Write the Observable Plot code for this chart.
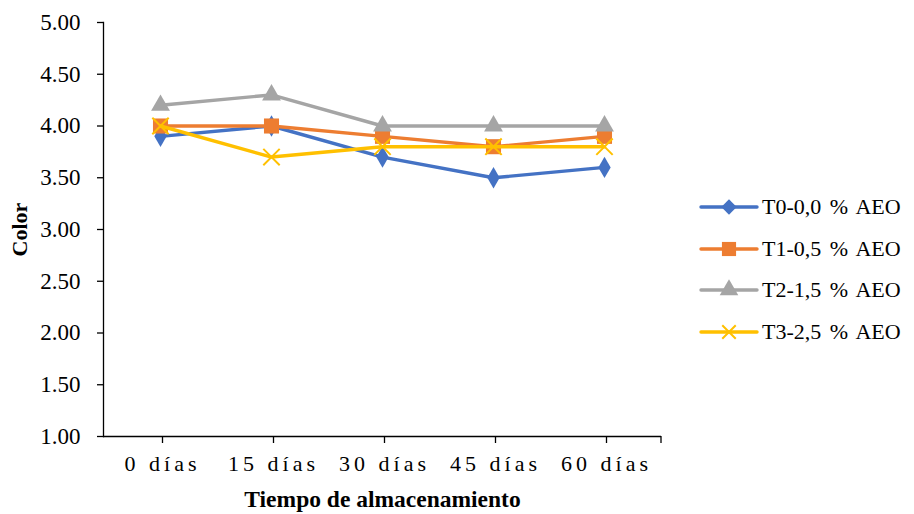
<!DOCTYPE html>
<html>
<head>
<meta charset="utf-8">
<script src="https://cdn.jsdelivr.net/npm/d3@7"></script>
<script src="https://cdn.jsdelivr.net/npm/@observablehq/plot@0.6"></script>
<style>
  body { margin: 0; background: #fff; }
  #wrap { position: relative; width: 914px; height: 514px; font-family: "Liberation Serif", serif; }
  #chart svg, #chart svg text { font-family: "Liberation Serif", serif !important; }
  #chart g[aria-label="y-axis tick label"] text { font-size: 23px !important; }
  #chart g[aria-label="x-axis tick label"] text { font-size: 22px !important; letter-spacing: 4px; }
  #legend { position: absolute; left: 698px; top: 186px; }
  .row { display: flex; align-items: center; height: 41.7px; font-size: 22px; word-spacing: 3px; color: #000; font-family: "Liberation Serif", serif; }
  .row svg { margin-right: 2px; }
</style>
</head>
<body>
<div id="wrap"><div id="chart"></div><div id="legend"></div></div>
<script>
const categories = ["0 días", "15 días", "30 días", "45 días", "60 días"];
const seriesNames = ["T0-0,0 % AEO", "T1-0,5 % AEO", "T2-1,5 % AEO", "T3-2,5 % AEO"];
const t0 = [3.9, 4.0, 3.7, 3.5, 3.6];
const t1 = [4.0, 4.0, 3.9, 3.8, 3.9];
const t2 = [4.2, 4.3, 4.0, 4.0, 4.0];
const t3 = [4.0, 3.7, 3.8, 3.8, 3.8];
const yTicks = [1, 1.5, 2, 2.5, 3, 3.5, 4, 4.5, 5];
const colors = ["#4472C4", "#ED7D31", "#A5A5A5", "#FFC000"];
const symbols = ["diamond", "square", "triangle", "times"];
const sizes = [6.5, 8.5, 7, 7.5];

const allValues = [t0, t1, t2, t3];
const data = allValues.map((vals, s) => categories.map((c, i) => ({series: seriesNames[s], cat: c, value: vals[i]})));

// closing tick at the right end of the category axis
function endTick(index, scales, values, dims) {
  const x = dims.width - dims.marginRight;
  const y0 = dims.height - dims.marginBottom;
  const l = document.createElementNS("http://www.w3.org/2000/svg", "line");
  l.setAttribute("x1", x); l.setAttribute("x2", x);
  l.setAttribute("y1", y0); l.setAttribute("y2", y0 + 7);
  l.setAttribute("stroke", "#000"); l.setAttribute("stroke-width", 1.3);
  return l;
}

const marks = [
  Plot.ruleY([1], {stroke: "#000", strokeWidth: 1.3}),
  Plot.frame({anchor: "left", stroke: "#000", strokeWidth: 1.3}),
  endTick,
  Plot.axisY({ticks: yTicks, tickFormat: d3.format(".2f"), tickSize: 6, tickPadding: 17, fontSize: 23, label: null, stroke: "#000", strokeWidth: 1.3}),
  Plot.axisX({tickSize: 7, tickPadding: 12, fontSize: 22, dx: 2, label: null, stroke: "#000", strokeWidth: 1.3}),
  Plot.text(["Color"], {frameAnchor: "left", textAnchor: "middle", dx: -84, rotate: -90, fontSize: 22, fontWeight: "bold"}),
  Plot.text(["Tiempo de almacenamiento"], {frameAnchor: "bottom", dy: 70, fontSize: 23.5, fontWeight: "bold"})
];
data.forEach((d, s) => {
  marks.push(Plot.line(d, {x: "cat", y: "value", stroke: colors[s], strokeWidth: 3.4}));
  const isStroke = symbols[s] === "times";
  marks.push(Plot.dot(d, {x: "cat", y: "value", symbol: () => symbols[s], r: sizes[s],
    fill: isStroke ? "none" : colors[s], stroke: colors[s], strokeWidth: isStroke ? 2 : 0}));
});

const chart = Plot.plot({
  width: 914, height: 514,
  marginLeft: 103, marginRight: 253, marginTop: 22, marginBottom: 78,
  style: {fontFamily: "'Liberation Serif', serif", color: "#000", background: "#fff"},
  x: {type: "point", domain: categories, padding: 0.5},
  y: {domain: [1, 5]},
  symbol: {type: "identity"},
  marks
});
document.getElementById("chart").appendChild(chart);

const legend = document.getElementById("legend");
seriesNames.forEach((name, s) => {
  const row = document.createElement("div");
  row.className = "row";
  const sym = d3.symbol(s === 0 ? d3.symbolDiamond2 : s === 1 ? d3.symbolSquare : s === 2 ? d3.symbolTriangle : d3.symbolTimes, s === 3 ? 120 : s === 1 ? 200 : 150)();
  row.innerHTML = `<svg width="62" height="22"><line x1="3" x2="59" y1="11" y2="11" stroke="${colors[s]}" stroke-width="3.4" stroke-linecap="round"/>` +
    `<path transform="translate(31,11)" d="${sym}" fill="${s === 3 ? 'none' : colors[s]}" stroke="${colors[s]}" stroke-width="${s === 3 ? 2 : 0}"/></svg><span>${name}</span>`;
  legend.appendChild(row);
});
</script>
</body>
</html>
